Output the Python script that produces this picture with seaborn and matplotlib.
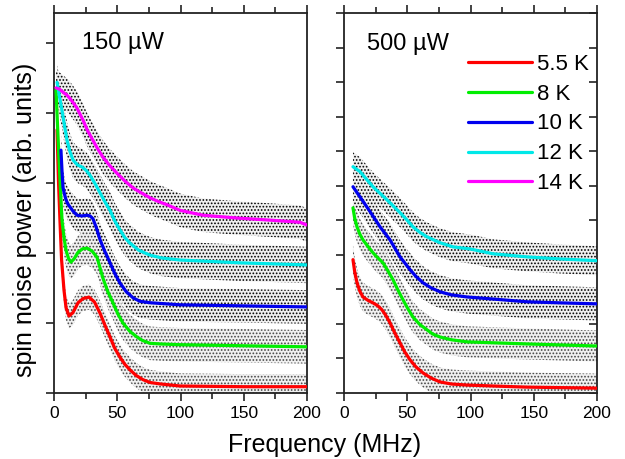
import numpy as np
import pandas as pd
import matplotlib
matplotlib.use("Agg")
import matplotlib.pyplot as plt
from matplotlib.lines import Line2D
from matplotlib.ticker import MultipleLocator
import seaborn as sns

# --- data (frequency in MHz, power in arb. units) ---
temps = ['5.5 K', '8 K', '10 K', '12 K', '14 K']
colors = ['#ff0000', '#00ee00', '#0000ee', '#00e8e8', '#ff00ff']

# 150 uW panel
left_freq_55 = [2.4, 3.5, 4.7, 6.0, 7.9, 9.5, 11.9, 15, 19, 23, 27.7, 32, 36.4, 40, 44.3, 48, 52.2, 56, 60.1, 65, 70.4, 76, 83.8, 99.6, 150, 200]
left_pow_55 = [3.76, 3.05, 2.47, 1.90, 1.47, 1.22, 1.10, 1.15, 1.29, 1.35, 1.37, 1.30, 1.14, 0.98, 0.80, 0.64, 0.51, 0.41, 0.33, 0.25, 0.19, 0.15, 0.13, 0.10, 0.09, 0.09]
left_freq_8 = [1.6, 2.8, 4.0, 5.2, 6.3, 7.9, 9.5, 11.5, 13.4, 16, 19, 22.5, 26.1, 30, 34, 38.7, 42.5, 46.6, 50.5, 54.5, 60, 65.6, 70, 75.9, 85, 99.6, 200]
left_pow_8 = [4.33, 3.82, 3.33, 2.88, 2.47, 2.22, 2.04, 1.92, 1.87, 1.92, 2.01, 2.06, 2.07, 2.03, 1.94, 1.64, 1.45, 1.29, 1.13, 1.0, 0.88, 0.80, 0.75, 0.71, 0.70, 0.69, 0.66]
left_freq_10 = [5.5, 6.3, 7.1, 8.3, 9.5, 11, 12.6, 15, 18.2, 22, 26.1, 28.5, 30.8, 33.5, 36.4, 40, 44.3, 48, 52.2, 57, 62.5, 68, 75.9, 99.6, 200]
left_pow_10 = [3.47, 3.18, 2.94, 2.84, 2.76, 2.70, 2.66, 2.60, 2.54, 2.53, 2.54, 2.53, 2.49, 2.36, 2.19, 2.03, 1.86, 1.71, 1.57, 1.45, 1.36, 1.31, 1.29, 1.26, 1.23]
left_freq_12 = [2.4, 4.3, 6.3, 8.3, 10.3, 12.6, 15, 18.5, 22.1, 25.5, 28.5, 32.5, 36.4, 40, 44.3, 48, 52.2, 56, 60.1, 67, 75.9, 85, 99.6, 147, 200]
left_pow_12 = [4.44, 4.24, 4.04, 3.82, 3.61, 3.45, 3.33, 3.26, 3.23, 3.18, 3.11, 2.99, 2.86, 2.74, 2.61, 2.46, 2.33, 2.22, 2.14, 2.04, 1.97, 1.93, 1.90, 1.86, 1.83]
left_freq_14 = [1.6, 4.5, 7.1, 10, 12.6, 15.5, 18.2, 22.9, 26.5, 30.8, 34.5, 38.7, 44, 49.8, 56, 62.5, 69, 75.9, 82, 89.3, 99.6, 117.8, 144.7, 170.8, 194.5, 200]
left_pow_14 = [4.36, 4.34, 4.30, 4.26, 4.21, 4.14, 4.07, 3.90, 3.75, 3.61, 3.49, 3.37, 3.25, 3.14, 3.03, 2.93, 2.86, 2.79, 2.74, 2.69, 2.61, 2.54, 2.50, 2.47, 2.44, 2.40]
left_noise = [0.18, 0.24, 0.24, 0.26, 0.24]

# 500 uW panel
right_freq_55 = [7.1, 8.5, 10.3, 12.5, 15.0, 19, 22.9, 26.5, 30.0, 33, 36.4, 40, 44.3, 48, 52.2, 57, 62.5, 69, 75.9, 85, 97.2, 120, 144.7, 200]
right_pow_55 = [3.86, 3.50, 3.19, 2.95, 2.78, 2.68, 2.61, 2.53, 2.41, 2.25, 2.03, 1.75, 1.45, 1.19, 0.96, 0.75, 0.58, 0.43, 0.32, 0.26, 0.23, 0.20, 0.17, 0.14]
right_freq_8 = [7.1, 8.5, 10.3, 12.5, 15.0, 19, 22.9, 26.5, 30.8, 34.5, 38.7, 42.5, 46.6, 50.5, 54.5, 60, 65.6, 70, 75.9, 85, 97.2, 144.7, 200]
right_pow_8 = [5.36, 5.05, 4.81, 4.60, 4.43, 4.24, 4.06, 3.92, 3.77, 3.55, 3.28, 2.99, 2.70, 2.44, 2.20, 1.98, 1.83, 1.71, 1.62, 1.54, 1.48, 1.42, 1.36]
right_freq_10 = [7.1, 12.6, 20.6, 28.5, 36.4, 44.3, 52.2, 57, 62.5, 69, 75.9, 85, 97.2, 117.8, 144.7, 170.8, 200]
right_pow_10 = [5.97, 5.68, 5.25, 4.81, 4.43, 3.94, 3.57, 3.37, 3.19, 3.04, 2.93, 2.84, 2.78, 2.72, 2.64, 2.61, 2.58]
right_freq_12 = [7.1, 12.6, 17.5, 22.9, 28.5, 34.0, 39, 44.3, 49.5, 54.5, 60, 65.6, 75.9, 86.2, 99.6, 117.8, 144.7, 170.8, 200]
right_pow_12 = [6.55, 6.41, 6.20, 5.97, 5.78, 5.59, 5.41, 5.22, 5.02, 4.81, 4.65, 4.52, 4.35, 4.23, 4.17, 4.03, 3.94, 3.88, 3.83]
right_noise = [0.42, 0.45, 0.48, 0.42]

panel_labels = ['150 \u00b5W', '500 \u00b5W']


def build_frame(freqs, powers, labels):
    rows = []
    for f, p, t in zip(freqs, powers, labels):
        rows.append(pd.DataFrame({'freq': f, 'power': p, 'temp': t}))
    return pd.concat(rows, ignore_index=True)


left_df = build_frame([left_freq_55, left_freq_8, left_freq_10, left_freq_12, left_freq_14],
                      [left_pow_55, left_pow_8, left_pow_10, left_pow_12, left_pow_14], temps)
right_df = build_frame([right_freq_55, right_freq_8, right_freq_10, right_freq_12],
                       [right_pow_55, right_pow_8, right_pow_10, right_pow_12], temps[:4])

sns.set_style("ticks")
plt.rcParams['font.family'] = ['Liberation Sans', 'DejaVu Sans']
plt.rcParams['hatch.linewidth'] = 0.8
for key in ['text.color', 'axes.labelcolor', 'xtick.color', 'ytick.color']:
    plt.rcParams[key] = 'black'
palette = dict(zip(temps, colors))

fig = plt.figure(figsize=(6.25, 4.59), dpi=100)
ax_l = fig.add_axes([54 / 625, 66 / 459, 253 / 625, 380 / 459])
ax_r = fig.add_axes([344 / 625, 66 / 459, 253 / 625, 380 / 459])

for ax, df, noise, ylim in [(ax_l, left_df, left_noise, 5.43), (ax_r, right_df, right_noise, 11.0)]:
    # noisy measured data shown as a speckled band around each fit
    for i, (t, grp) in enumerate(df.groupby('temp', sort=False)):
        shade = '#000000' if i >= 2 else '#444444'
        ax.fill_between(grp['freq'], grp['power'] - noise[i], grp['power'] + noise[i],
                        facecolor='#f0f0f0', edgecolor=shade, hatch='.....', linewidth=0, zorder=1)
    sns.lineplot(data=df, x='freq', y='power', hue='temp', palette=palette,
                 estimator=None, sort=False, linewidth=2.3, legend=False, ax=ax, zorder=3)
    ax.set_xlim(0, 200)
    ax.set_ylim(0, ylim)
    ax.xaxis.set_major_locator(MultipleLocator(50))
    ax.xaxis.set_minor_locator(MultipleLocator(25))
    ax.yaxis.set_major_locator(MultipleLocator(1))
    ax.set_yticklabels([])
    ax.set_xlabel('')
    ax.set_ylabel('')
    ax.tick_params(axis='x', which='both', direction='out', top=True, labelsize=12.5, width=1.2, pad=3,
                   color='#222222')
    ax.tick_params(axis='x', which='major', length=6)
    ax.tick_params(axis='x', which='minor', length=4)
    ax.tick_params(axis='y', which='major', direction='out', length=6, width=1.2, color='#222222')
    for s in ax.spines.values():
        s.set_linewidth(1.3)
        s.set_color('#222222')
        s.set_visible(True)

ax_r.tick_params(axis='y', which='major', right=True)
for tl in ax_r.yaxis.get_ticklines()[1::2]:
    tl.set_marker(0)

ax_l.text(22, 5.0, panel_labels[0], fontsize=17, va='center', ha='left')
ax_r.text(18, 10.1, panel_labels[1], fontsize=17, va='center', ha='left')

handles = [Line2D([], [], color=c, linewidth=2.3) for c in colors]
ax_r.legend(handles, temps, loc='upper left', bbox_to_anchor=(0.49, 0.893), frameon=False,
            fontsize=16, handlelength=2.9, handletextpad=0.2, labelspacing=0.4,
            borderpad=0, borderaxespad=0)

fig.text(325 / 625, 1 - 445 / 459, 'Frequency (MHz)', fontsize=18, ha='center', va='center')
fig.text(25 / 625, 1 - 220 / 459, 'spin noise power (arb. units)', fontsize=18,
         ha='center', va='center', rotation=90)

fig.savefig('out.png', dpi=100)
